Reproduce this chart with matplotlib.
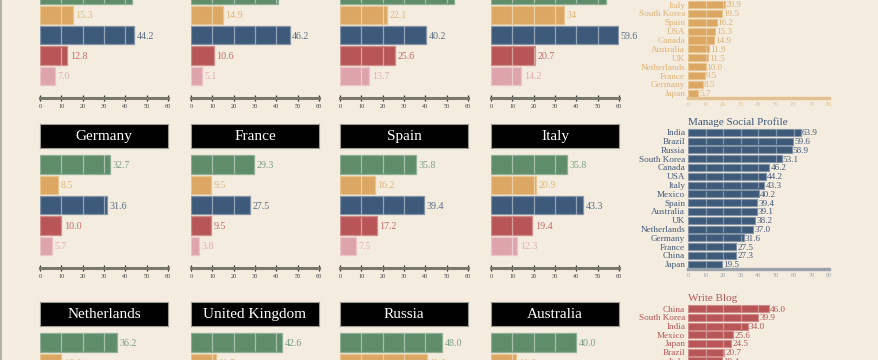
import matplotlib.pyplot as plt
from matplotlib.lines import Line2D

W, H = 879, 360
BG = '#f3ecdf'
FONT = 'Liberation Serif'

# bar colours: green, orange, blue, red, pink
colors = ['#5f8c69', '#dba762', '#3e5a7a', '#b85657', '#dea4ac']
edges = ['#8fb096', '#e8c48f', '#8593a6', '#d08b8b', '#ebc3c8']
label_colors = ['#7c9f84', '#e2b679', '#5c6f87', '#c56b6b', '#e3adb4']

# small multiples, one list per country (green, orange, blue, red, pink)
usa = [43.0, 15.3, 44.2, 12.8, 7.0]
canada = [40.8, 14.9, 46.2, 10.6, 5.1]
mexico = [53.4, 22.1, 40.2, 25.6, 13.7]
brazil = [54.0, 34, 59.6, 20.7, 14.2]
germany = [32.7, 8.5, 31.6, 10.0, 5.7]
france = [29.3, 9.5, 27.5, 9.5, 3.8]
spain = [35.8, 16.2, 39.4, 17.2, 7.5]
italy = [35.8, 20.9, 43.3, 19.4, 12.3]
netherlands = [36.2, 10.0, 37.0]
uk = [42.6, 11.5, 38.2]
russia = [48.0, 40.6, 58.9]
australia = [40.0, 11.9, 39.1]

rows = [
    (98, [('USA', usa), ('Canada', canada), ('Mexico', mexico), ('Brazil', brazil)]),
    (268, [('Germany', germany), ('France', france), ('Spain', spain), ('Italy', italy)]),
    (446, [('Netherlands', netherlands), ('United Kingdom', uk), ('Russia', russia), ('Australia', australia)]),
]
panel_x = [40, 191, 340, 491]

# ranked lists on the right
orange_names = ['Italy', 'South Korea', 'Spain', 'USA', 'Canada',
                'Australia', 'UK', 'Netherlands', 'France', 'Germany', 'Japan']
orange_vals = [20.9, 19.5, 16.2, 15.3, 14.9, 11.9, 11.5, 10.0, 9.5, 8.5, 5.7]
social_names = ['India', 'Brazil', 'Russia', 'South Korea', 'Canada', 'USA', 'Italy', 'Mexico',
                'Spain', 'Australia', 'UK', 'Netherlands', 'Germany', 'France', 'China', 'Japan']
social_vals = [63.9, 59.6, 58.9, 53.1, 46.2, 44.2, 43.3, 40.2, 39.4, 39.1, 38.2, 37.0, 31.6, 27.5, 27.3, 19.5]
blog_names = ['China', 'South Korea', 'India', 'Mexico', 'Japan', 'Brazil', 'Italy']
blog_vals = [46.0, 39.9, 34.0, 25.6, 24.5, 20.7, 19.4]

plt.rcParams['font.family'] = [FONT, 'DejaVu Serif']
fig = plt.figure(figsize=(W / 100, H / 100), dpi=100, facecolor=BG)


def px_axes(x0, y0, x1, y1):
    return fig.add_axes([x0 / W, 1 - y1 / H, (x1 - x0) / W, (y1 - y0) / H])


def fmt(v):
    return str(v)


def draw_panel(x0, axis_y, name, vals):
    # black title box (only where it lands on the canvas)
    if axis_y - 144 >= 0:
        tax = px_axes(x0, axis_y - 144, x0 + 128, axis_y - 120)
        tax.set_facecolor('black')
        for s in tax.spines.values():
            s.set_color('#9c9a94')
            s.set_linewidth(0.8)
        tax.set_xticks([])
        tax.set_yticks([])
        tax.text(0.5, 0.48, name, color='white', ha='center', va='center',
                 fontsize=11, transform=tax.transAxes)

    step = 20.4
    ax = px_axes(x0, axis_y - 5.58 * step, x0 + 128, axis_y)
    ax.set_facecolor('none')
    n = len(vals)
    ax.barh(range(n), vals, height=0.9, color=colors[:n], edgecolor=edges[:n], linewidth=0.9)
    for i, v in enumerate(vals):
        for t in range(10, 60, 10):
            if t < v - 0.6:
                ax.vlines(t, i - 0.44, i + 0.44, color='white', alpha=0.45, lw=0.9)
        ax.text(v + 1.2, i + 0.05, fmt(v), va='center', ha='left', fontsize=7.2,
                color=label_colors[i])
    ax.set_xlim(0, 60)
    ax.set_ylim(5.08, -0.5)
    for s in ['top', 'right', 'left']:
        ax.spines[s].set_visible(False)
    ax.spines['bottom'].set_color('#7a776d')
    ax.spines['bottom'].set_linewidth(2.2)
    ax.set_yticks([])
    if axis_y < H:
        ax.set_xticks(range(0, 61, 10))
        ax.tick_params(axis='x', direction='inout', length=4, width=0.9, color='#333333',
                       labelsize=4.5, pad=2, labelcolor='#444444')
    else:
        ax.set_xticks([])


def draw_rank(names, vals, color, edge, lcolor, axcolor, first_y, step, axis_y, title=None):
    n = len(vals)
    top = first_y - 0.5 * step
    ax = px_axes(688, top, 829, axis_y)
    ax.set_facecolor('none')
    ax.barh(range(n), vals, height=0.8, color=color, edgecolor=edge, linewidth=0.8)
    for i, v in enumerate(vals):
        for t in range(10, 80, 10):
            if t < v - 0.6:
                ax.vlines(t, i - 0.38, i + 0.38, color='white', alpha=0.35, lw=0.9)
        ax.text(v + 0.6, i + 0.1, fmt(v), va='center', ha='left', fontsize=6.6, color=lcolor)
    ax.set_xlim(0, 80)
    ax.set_ylim(n - 1 + (axis_y - (first_y + (n - 1) * step)) / step, -0.5)
    for s in ['top', 'right', 'left']:
        ax.spines[s].set_visible(False)
    ax.spines['bottom'].set_color(axcolor)
    ax.spines['bottom'].set_linewidth(2.4)
    ax.set_yticks(range(n))
    ax.set_yticklabels(names)
    ax.tick_params(axis='y', length=0, pad=2, labelsize=6.6, labelcolor=lcolor)
    if axis_y < H:
        ax.set_xticks(range(0, 81, 10))
        ax.tick_params(axis='x', length=0, pad=3, labelsize=4.5, labelcolor=axcolor)
    else:
        ax.set_xticks([])
    if title:
        fig.text(688 / W, 1 - (top - 6) / H, title, color=color, fontsize=8,
                 ha='left', va='center')


for axis_y, panels in rows:
    for x0, (name, vals) in zip(panel_x, panels):
        draw_panel(x0, axis_y, name, vals)

draw_rank(orange_names, orange_vals, colors[1], edges[1], '#e0b274', '#e3c08f',
          4.5, 8.88, 98)
draw_rank(social_names, social_vals, colors[2], edges[2], '#44597a', '#9aa3ab',
          132.3, 8.8, 269, 'Manage Social Profile')
draw_rank(blog_names, blog_vals, colors[3], edges[3], '#b85657', '#d9a0a0',
          308.7, 8.7, 308.7 + 6 * 8.7 + 30, 'Write Blog')

fig.add_artist(Line2D([0.8 / W, 0.8 / W], [0, 1], color='#a8a59e', lw=1.2))

fig.savefig('out.png', dpi=100, facecolor=BG)
